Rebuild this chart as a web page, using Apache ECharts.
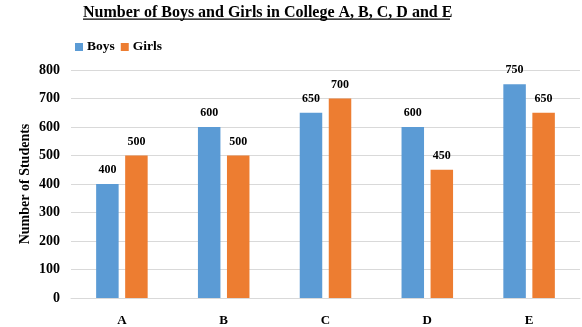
<!DOCTYPE html>
<html><head><meta charset="utf-8">
<script src="https://cdn.jsdelivr.net/npm/echarts@6/dist/echarts.min.js"></script>
<style>html,body{margin:0;padding:0;background:#fff}#c{width:582px;height:327px}</style>
</head><body><div id="c"></div>
<script>
var categories = ['A', 'B', 'C', 'D', 'E'];
var boys = [400, 600, 650, 600, 750];
var girls = [500, 500, 700, 450, 650];
var yTicks = [0, 100, 200, 300, 400, 500, 600, 700, 800];

var FONT = '"Liberation Serif", "Times New Roman", serif';
var chart = echarts.init(document.getElementById('c'), null, {renderer: 'canvas'});
var lbl = {show: true, position: 'top', distance: 8, color: '#000', fontFamily: FONT, fontWeight: 'bold', fontSize: 12};
chart.setOption({
  animation: false,
  backgroundColor: '#fff',
  title: {
    text: 'Number of Boys and Girls in College A, B, C, D and E',
    left: 78, top: 0,
    textStyle: {fontFamily: FONT, fontWeight: 'bold', fontSize: 16, color: '#000'}
  },
  graphic: [{type: 'rect', shape: {x: 83, y: 18.5, width: 367, height: 1.2}, style: {fill: '#000'}}],
  legend: {
    left: 70, top: 35, itemWidth: 8, itemHeight: 8, itemGap: 6,
    icon: 'rect',
    textStyle: {fontFamily: FONT, fontWeight: 'bold', fontSize: 13.5, color: '#000', padding: [0, 0, 0, -1]},
    data: ['Boys', 'Girls']
  },
  grid: {left: 71, right: 2, top: 70, bottom: 28, containLabel: false},
  xAxis: {
    type: 'category', data: categories,
    axisLine: {lineStyle: {color: '#d9d9d9'}},
    axisTick: {show: false},
    axisLabel: {fontFamily: FONT, fontWeight: 'bold', fontSize: 13, color: '#000', margin: 16}
  },
  yAxis: {
    type: 'value', min: yTicks[0], max: yTicks[yTicks.length - 1], interval: 100,
    name: 'Number of Students', nameLocation: 'middle', nameGap: 39, nameMoveOverlap: false,
    nameTextStyle: {fontFamily: FONT, fontWeight: 'bold', fontSize: 14, color: '#000'},
    axisLine: {show: false}, axisTick: {show: false},
    axisLabel: {fontFamily: FONT, fontWeight: 'bold', fontSize: 14, color: '#000', margin: 11},
    splitLine: {lineStyle: {color: '#d9d9d9'}}
  },
  series: [
    {name: 'Boys', type: 'bar', data: boys, barWidth: 22.5, barGap: '29%', itemStyle: {color: '#5B9BD5'}, label: lbl},
    {name: 'Girls', type: 'bar', data: girls, barWidth: 22.5, barGap: '29%', itemStyle: {color: '#ED7D31'}, label: lbl}
  ]
});
</script></body></html>
